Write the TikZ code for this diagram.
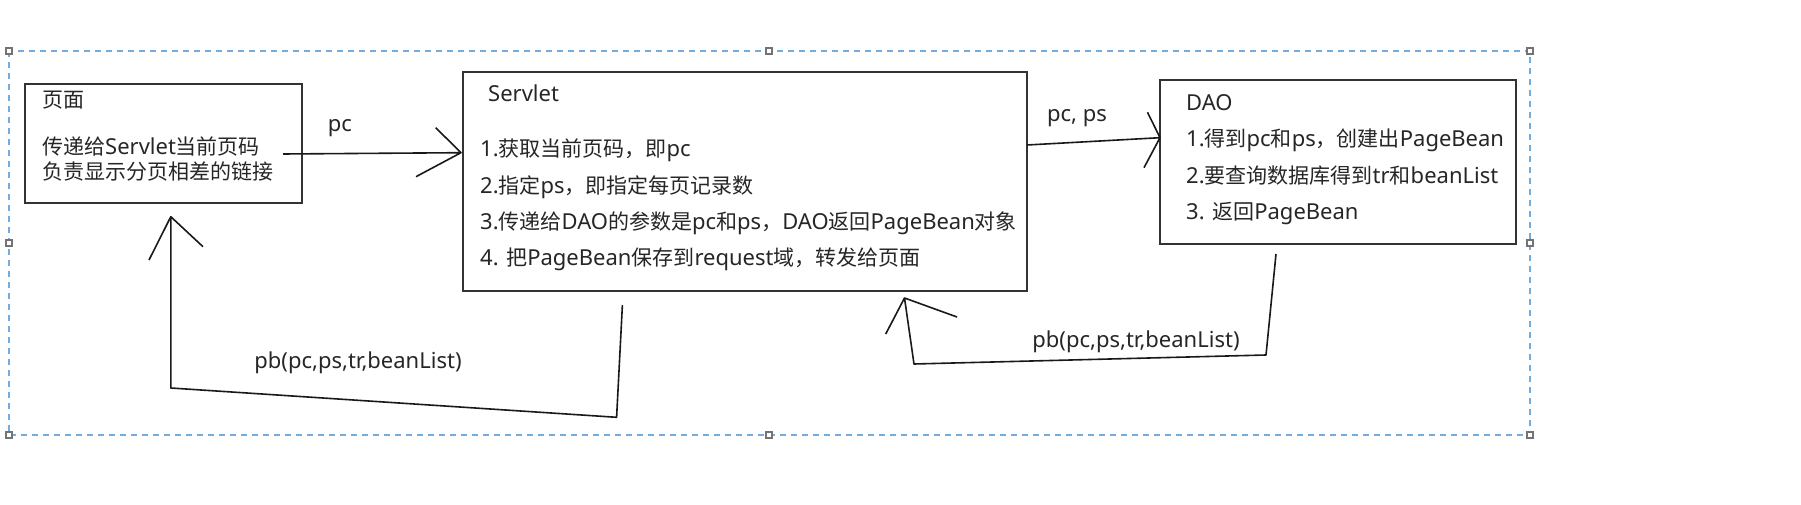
\documentclass[tikz,border=0pt]{standalone}
\usepackage{fontspec}
\newfontfamily\cjk{Noto Sans CJK SC}
\newfontfamily\latn{Noto Sans}
\newcommand\zh[1]{{\cjk\fontsize{21}{24}\selectfont #1}}
\definecolor{selblue}{RGB}{115,172,222}
\begin{document}
\begin{tikzpicture}[x=1pt,y=-1pt,
  box/.style={draw=black!80, line width=1.8pt, inner sep=0pt, anchor=north west},
  txt/.style={inner sep=0pt, anchor=west, text=black!85, font=\latn\fontsize{22}{24}\selectfont},
  lbl/.style={inner sep=0pt, text=black!85, font=\latn\fontsize{22}{24}\selectfont},
  conn/.style={draw=black!90, line width=1.6pt, line join=round},
  sel/.style={draw=selblue, line width=1.4pt, dash pattern=on 6pt off 5pt},
  handle/.style={draw=black!55, fill=white, line width=1.2pt, minimum size=6pt, inner sep=0pt}
]
\useasboundingbox[fill=white] (0,0) rectangle (1801,505);
% selection frame
\draw[sel] (9,51) rectangle (1530,435);
\foreach \hx/\hy [count=\i] in {9/51,769/51,1530/51,9/243,1530/243,9/435,769/435,1530/435}
  \node[handle] (h\i) at (\hx,\hy) {};
% boxes
\node[box, minimum width=277pt, minimum height=119pt] (page) at (24,83) {};
\node[box, minimum width=564pt, minimum height=219pt] (servlet) at (462,71) {};
\node[box, minimum width=356pt, minimum height=164pt] (dao) at (1159,79) {};
% page texts
\node[txt] (p0) at (42,100) {\zh{页面}};
\node[txt] (p1) at (42,146) {\zh{传递给}Servlet\zh{当前页码}};
\node[txt] (p2) at (42,172) {\zh{负责显示分页相差的链接}};
% servlet texts
\node[txt] (s0) at (488,93) {Servlet};
\node[txt] (s1) at (480,150) {1.\zh{获取当前页码，即}pc};
\node[txt] (s2) at (480,187) {2.\zh{指定}ps\zh{，即指定每页记录数}};
\node[txt] (s3) at (480,223) {3.\zh{传递给}DAO\zh{的参数是}pc\zh{和}ps\zh{，}DAO\zh{返回}PageBean\zh{对象}};
\node[txt] (s4) at (480,259) {4. \zh{把}PageBean\zh{保存到}request\zh{域，转发给页面}};
% dao texts
\node[txt] (d0) at (1186,103) {DAO};
\node[txt] (d1) at (1186,140) {1.\zh{得到}pc\zh{和}ps\zh{，创建出}PageBean};
\node[txt] (d2) at (1186,176) {2.\zh{要查询数据库得到}tr\zh{和}beanList};
\node[txt] (d3) at (1186,213) {3. \zh{返回}PageBean};
% labels
\node[lbl] (lpc) at (340,128) {pc};
\node[lbl] (lpcps) at (1077,118) {pc, ps};
\node[lbl] (lpb1) at (358,363) {pb(pc,ps,tr,beanList)};
\node[lbl] (lpb2) at (1136,342) {pb(pc,ps,tr,beanList)};
% connector coordinates
\coordinate (a1s) at (283,154);
\coordinate (a1t) at (461,152.7);
\coordinate (a1h1) at (435.7,127.7);
\coordinate (a1h2) at (416,176.7);
\coordinate (a2s) at (1027,145);
\coordinate (a2t) at (1160,137.7);
\coordinate (a2h1) at (1147.5,112.3);
\coordinate (a2h2) at (1144,167.7);
\coordinate (a3s) at (622.4,305);
\coordinate (a3b) at (616.6,417.3);
\coordinate (a3c) at (170.8,388);
\coordinate (a3t) at (170.8,216.7);
\coordinate (a3h1) at (149,260);
\coordinate (a3h2) at (203,246.7);
\coordinate (a4s) at (1276,254);
\coordinate (a4b) at (1266,355);
\coordinate (a4c) at (914,364);
\coordinate (a4t) at (904.5,298);
\coordinate (a4h1) at (885.7,334);
\coordinate (a4h2) at (957,317);
% connectors
\draw[conn] (a1s) -- (a1t) (a1h1) -- (a1t) -- (a1h2);
\draw[conn] (a2s) -- (a2t) (a2h1) -- (a2t) -- (a2h2);
\draw[conn] (a3s) -- (a3b) -- (a3c) -- (a3t) (a3h1) -- (a3t) -- (a3h2);
\draw[conn] (a4s) -- (a4b) -- (a4c) -- (a4t) (a4h1) -- (a4t) -- (a4h2);
\end{tikzpicture}
\end{document}
